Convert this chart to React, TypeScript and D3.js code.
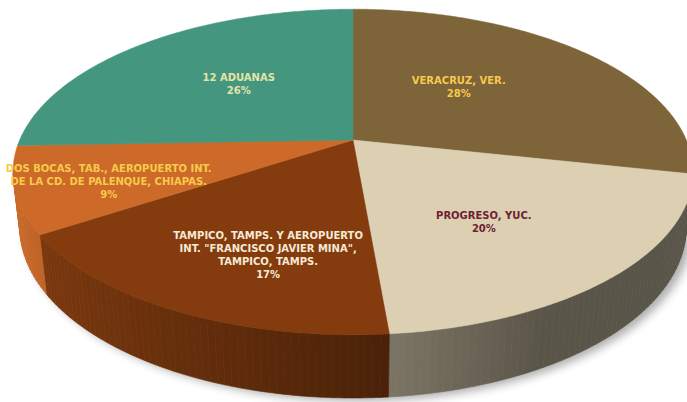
import React from "react";
import * as d3 from "d3";

// ---- Data ----
const categories = [
  "VERACRUZ, VER.",
  "PROGRESO, YUC.",
  'TAMPICO, TAMPS. Y AEROPUERTO INT. "FRANCISCO JAVIER MINA", TAMPICO, TAMPS.',
  "DOS BOCAS, TAB., AEROPUERTO INT. DE LA CD. DE PALENQUE, CHIAPAS.",
  "12 ADUANAS",
];
const values = [28.4, 20.3, 17.3, 8.6, 25.6];
const labelLines = [
  ["VERACRUZ, VER."],
  ["PROGRESO, YUC."],
  ["TAMPICO, TAMPS. Y AEROPUERTO", 'INT. "FRANCISCO JAVIER MINA",', "TAMPICO, TAMPS."],
  ["DOS BOCAS, TAB., AEROPUERTO INT.", "DE LA CD. DE PALENQUE, CHIAPAS."],
  ["12 ADUANAS"],
];

// ---- Style / layout ----
const sliceColors = ["#7e6439", "#dccfb2", "#843c0f", "#cd6a29", "#44977e"];
const labelColors = ["#f7ca4c", "#6e1f35", "#f6ead6", "#f7ca4c", "#e4e3a8"];
const labelRadius = [0.43, 0.545, 0.526, 0.735, 0.51];
const labelShift = [-13, 13, 33, 5, -4];

const W = 687;
const H = 402;
const TILT = (28 * Math.PI) / 180;
const S = Math.sin(TILT);
const C = Math.cos(TILT);
const DIST = 4.494;
const FOCAL = 1498;
const CX = 353;
const CY = 140;
const DEPTH = 0.19;
const LINE_H = 13;

function project(x: number, y: number, z: number): [number, number] {
  const vy = y + DIST * C;
  const vz = z - DIST * S;
  const xc = x;
  const yc = vy * S + vz * C;
  const zc = vy * C - vz * S;
  return [CX + (FOCAL * xc) / zc, CY - (FOCAL * yc) / zc];
}

function arcPoints(a0: number, a1: number, z: number, r = 1): [number, number][] {
  const n = Math.max(2, Math.ceil(Math.abs(a1 - a0) / 0.01));
  return d3.range(n + 1).map((i) => {
    const a = a0 + ((a1 - a0) * i) / n;
    return project(r * Math.sin(a), r * Math.cos(a), z);
  });
}

const toPath = (pts: [number, number][]) =>
  "M" + pts.map((p) => p[0].toFixed(2) + "," + p[1].toFixed(2)).join("L") + "Z";

function shade(base: string, a: number) {
  const b = Math.min(1, Math.max(0.41, 0.6 - 0.4 * Math.sin(a)));
  return d3.interpolateRgb("#000000", base)(b);
}

export default function App() {
  const pie = d3.pie<number>().sort(null).value((d) => d);
  const arcs = pie(values);
  const total = d3.sum(values);
  const visibleCos = -1 / (DIST * C);

  const walls: { d: string; fill: string; key: string }[] = [];
  arcs.forEach((arc, i) => {
    const step = 0.02;
    const n = Math.max(1, Math.ceil((arc.endAngle - arc.startAngle) / step));
    for (let k = 0; k < n; k++) {
      const a0 = arc.startAngle + ((arc.endAngle - arc.startAngle) * k) / n;
      const a1 = arc.startAngle + ((arc.endAngle - arc.startAngle) * (k + 1)) / n;
      const am = (a0 + a1) / 2;
      if (Math.cos(a0) > visibleCos + 0.05 && Math.cos(a1) > visibleCos + 0.05) continue;
      const top = arcPoints(a0, a1, 0);
      const bot = arcPoints(a1, a0, -DEPTH);
      walls.push({ d: toPath([...top, ...bot]), fill: shade(sliceColors[i], am), key: `${i}-${k}` });
    }
  });

  const shadowPath = toPath(arcPoints(0, Math.PI * 2, -DEPTH));

  return (
    <svg
      width={W}
      height={H}
      style={{ position: "absolute", left: 0, top: 0, background: "#ffffff" }}
      fontFamily="'DejaVu Sans', 'Open Sans', sans-serif"
    >
      <defs>
        <filter id="blur" x="-20%" y="-20%" width="140%" height="140%">
          <feGaussianBlur stdDeviation="5" />
        </filter>
      </defs>
      <path d={shadowPath} fill="#000" opacity={0.32} filter="url(#blur)" transform="translate(6,3)" />
      <g>
        {walls.map((w) => (
          <path key={w.key} d={w.d} fill={w.fill} stroke={w.fill} strokeWidth={0.6} />
        ))}
      </g>
      <g>
        {arcs.map((arc, i) => {
          const pts = [project(0, 0, 0), ...arcPoints(arc.startAngle, arc.endAngle, 0)];
          return <path key={categories[i]} d={toPath(pts)} fill={sliceColors[i]} stroke={sliceColors[i]} strokeWidth={0.5} />;
        })}
      </g>
      <g>
        {arcs.map((arc, i) => {
          const mid = (arc.startAngle + arc.endAngle) / 2;
          const r = labelRadius[i];
          const [lx, ly0] = project(r * Math.sin(mid), r * Math.cos(mid), 0);
          const ly = ly0 + labelShift[i];
          const lines = [...labelLines[i], `${Math.round((values[i] / total) * 100)}%`];
          return (
            <text
              key={"l" + i}
              x={lx}
              y={ly}
              fill={labelColors[i]}
              fontSize={10}
              fontWeight={700}
              textAnchor="middle"
            >
              {lines.map((t, j) => (
                <tspan key={j} x={lx} y={ly + (j - (lines.length - 1) / 2) * LINE_H} dominantBaseline="central">
                  {t}
                </tspan>
              ))}
            </text>
          );
        })}
      </g>
    </svg>
  );
}
